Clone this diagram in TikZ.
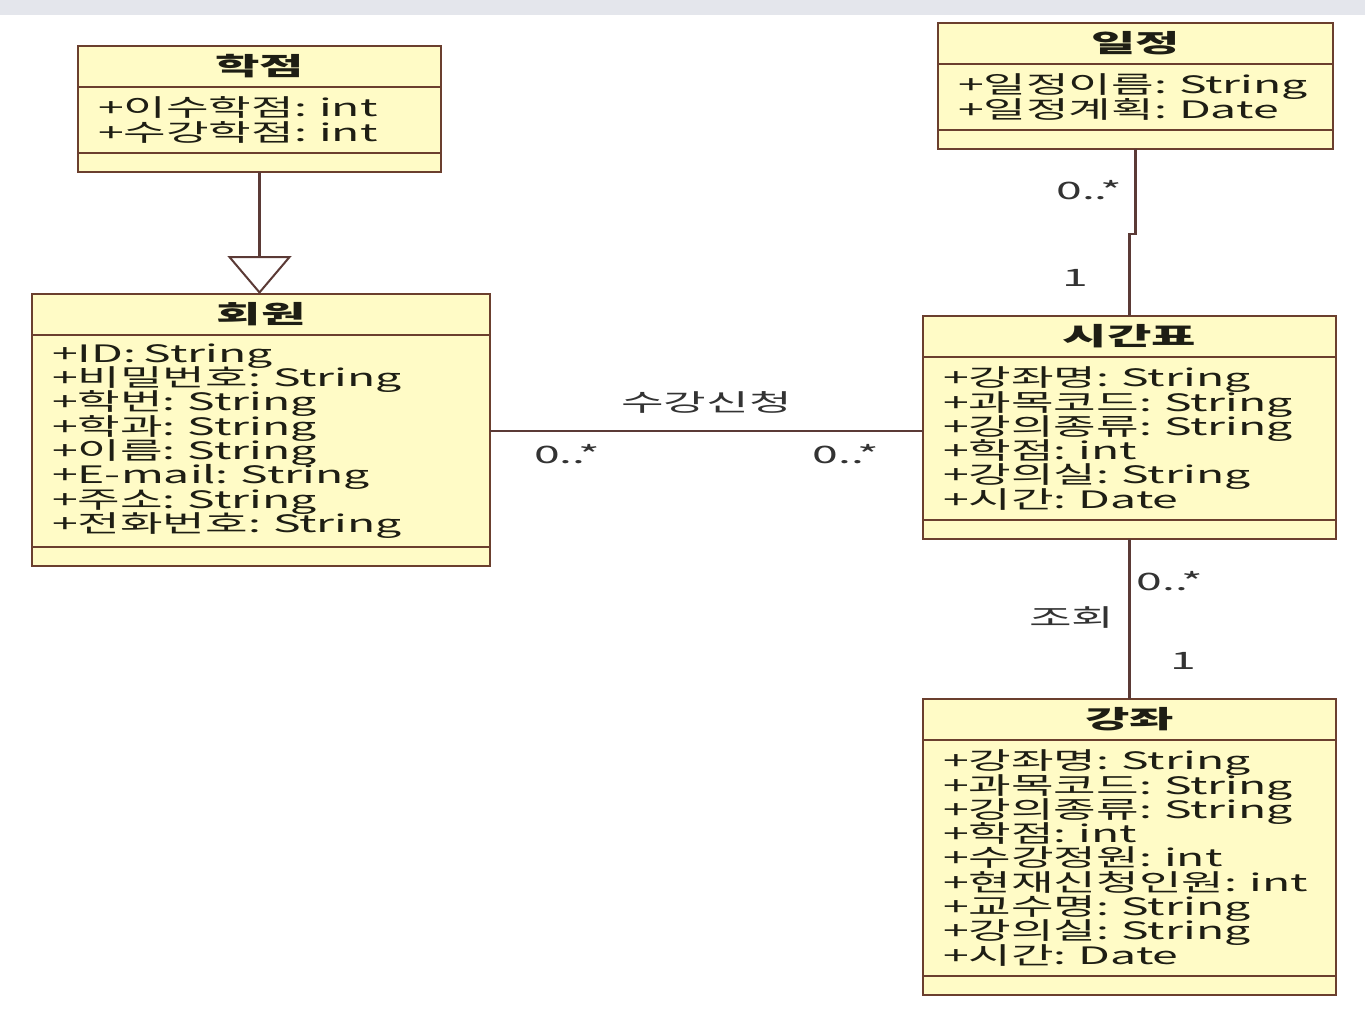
\documentclass[tikz,border=0pt]{standalone}
\usepackage{fontspec}
\setmainfont{Noto Sans CJK KR}[FakeStretch=1.93]
\usepackage{tikz}
\usetikzlibrary{positioning}
\usetikzlibrary{arrows.meta}
\definecolor{ClassFill}{HTML}{FFFBC6}
\definecolor{ClassLine}{HTML}{6B3F2E}
\definecolor{ClassText}{HTML}{1E1E14}
\definecolor{LinkLine}{HTML}{5B3A36}
\definecolor{LabelText}{HTML}{333333}
\definecolor{EdgeGrey}{HTML}{E4E6EC}
\newcommand{\classfont}{\fontsize{24}{24.3}\selectfont\lineskiplimit=-\maxdimen}
\newcommand{\titlefont}{\fontsize{25}{25}\selectfont\bfseries}

\begin{document}
\begin{tikzpicture}[x=1pt, y=-1pt,
  classtitle/.style={draw=ClassLine, fill=ClassFill, line width=2.5pt, outer sep=0pt,
    anchor=north west, inner sep=0pt, minimum height=41pt, font=\titlefont, text=ClassText},
  classattr/.style={draw=ClassLine, fill=ClassFill, line width=2.5pt, outer sep=0pt,
    align=left, inner xsep=20pt, inner ysep=0pt, font=\classfont, text=ClassText},
  classfoot/.style={draw=ClassLine, fill=ClassFill, line width=2.5pt, outer sep=0pt,
    inner sep=0pt, minimum height=19pt},
  link/.style={draw=LinkLine, line width=2.5pt},
  mult/.style={font=\classfont, text=LabelText, inner sep=0pt}]

  \useasboundingbox (0,0) rectangle (1365,1009);
  \fill[EdgeGrey] (0,0) rectangle (1365,15);

  % credit class
  \node[classtitle, minimum width=363pt] (hakjeom) at (78,46) {학점};
  \node[classattr, text width=323pt, minimum height=66pt, below=0pt of hakjeom] (hakjeom-a)
    {+이수학점: int\\+수강학점: int};
  \node[classfoot, minimum width=363pt, below=0pt of hakjeom-a] (hakjeom-f) {};

  % member class
  \node[classtitle, minimum width=458pt] (hoewon) at (32,294) {회원};
  \node[classattr, text width=418pt, minimum height=212pt, below=0pt of hoewon] (hoewon-a)
    {+ID: String\\+비밀번호: String\\+학번: String\\+학과: String\\+이름: String\\
     +E-mail: String\\+주소: String\\+전화번호: String};
  \node[classfoot, minimum width=458pt, below=0pt of hoewon-a] (hoewon-f) {};

  % schedule class
  \node[classtitle, minimum width=395pt] (iljeong) at (938,23) {일정};
  \node[classattr, text width=355pt, minimum height=66pt, below=0pt of iljeong] (iljeong-a)
    {+일정이름: String\\+일정계획: Date};
  \node[classfoot, minimum width=395pt, below=0pt of iljeong-a] (iljeong-f) {};

  % timetable class
  \node[classtitle, minimum width=413pt] (sigan) at (923,316) {시간표};
  \node[classattr, text width=373pt, minimum height=163pt, below=0pt of sigan] (sigan-a)
    {+강좌명: String\\+과목코드: String\\+강의종류: String\\+학점: int\\
     +강의실: String\\+시간: Date};
  \node[classfoot, minimum width=413pt, below=0pt of sigan-a] (sigan-f) {};

  % lecture class
  \node[classtitle, minimum width=413pt] (gangjwa) at (923,699) {강좌};
  \node[classattr, text width=373pt, minimum height=236pt, below=0pt of gangjwa] (gangjwa-a)
    {+강좌명: String\\+과목코드: String\\+강의종류: String\\+학점: int\\+수강정원: int\\
     +현재신청인원: int\\+교수명: String\\+강의실: String\\+시간: Date};
  \node[classfoot, minimum width=413pt, below=0pt of gangjwa-a] (gangjwa-f) {};

  % generalization
  \draw[link, -{Triangle[fill=white, line width=2pt, length=38pt, width=64pt]}]
    (hakjeom-f.south) -- (hakjeom-f.south |- hoewon.north);

  % enrolment
  \coordinate (enrol) at ([yshift=10pt]hoewon-a.east);
  \draw[link] (enrol) -- (enrol -| sigan-a.west)
    node[mult, midway, above=16pt] {수강신청}
    node[mult, pos=0, anchor=west, xshift=43pt, yshift=-23pt] {0..*}
    node[mult, pos=1, anchor=east, xshift=-43pt, yshift=-23pt] {0..*};

  % schedule - timetable
  \draw[link] (iljeong-f.south) -- node[mult, pos=.48, left=12pt] {0..*} ++(0,85)
    -| node[mult, pos=.77, left=40pt] {1} (sigan.north);

  % timetable - lecture
  \draw[link] (sigan-f.south) -- (gangjwa.north)
    node[mult, pos=.26, right=6pt] {0..*}
    node[mult, pos=.49, left=14pt] {조회}
    node[mult, pos=.76, right=40pt] {1};

\end{tikzpicture}
\end{document}
